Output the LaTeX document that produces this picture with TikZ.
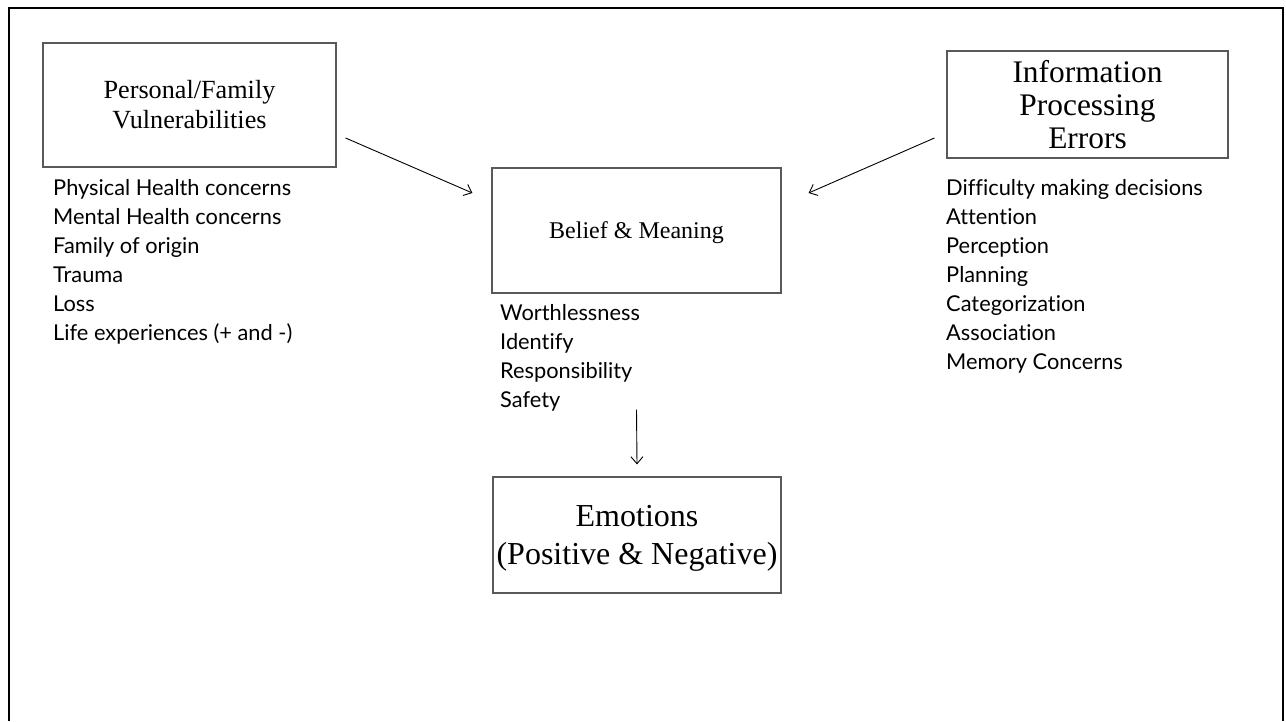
\documentclass[tikz,border=0pt]{standalone}
\usepackage{fontspec}
\setmainfont{Liberation Serif}
\newfontfamily\listfont{Lato}[Ligatures=NoCommon]
\usetikzlibrary{arrows.meta, positioning}

\begin{document}
\begin{tikzpicture}[x=1pt, y=-1pt,
  box/.style={draw=black!65, line width=1.2pt, align=center, inner sep=0pt},
  item/.style={anchor=base west, inner sep=0pt, font=\listfont\fontsize{21.8}{26}\selectfont},
  link/.style={line width=0.9pt, -{Straight Barb[length=7pt, width=12pt]}}]
  \useasboundingbox (0,0) rectangle (1286,721);
  \draw[line width=2.5pt] (9,721) -- (9,8) -- (1283,8) -- (1283,721);

  \node[box, minimum width=293pt, minimum height=124pt, font=\fontsize{26.2}{30}\selectfont]
    (pv) at (189.5,105) {Personal/Family\\ Vulnerabilities};
  \node[box, minimum width=281pt, minimum height=107pt, font=\fontsize{31.4}{33}\selectfont]
    (ip) at (1087.5,104.5) {Information\\ Processing\\ Errors};
  \node[box, minimum width=289pt, minimum height=125pt, text depth=1pt, font=\fontsize{24}{28}\selectfont]
    (bm) at (636.5,230.5) {Belief \& Meaning};
  \node[box, minimum width=288pt, minimum height=116pt, text depth=0pt, font=\fontsize{32}{38}\selectfont]
    (em) at (637,535) {Emotions\\ (Positive \& Negative)};

  % lists under the boxes
  \foreach \txt [count=\i from 0] in {Physical Health concerns, Mental Health concerns,
      Family of origin, Trauma, Loss, Life experiences (+ and -)}
    \node[item] (pv\i) at (53,195+29*\i) {\txt};
  \foreach \txt [count=\i from 0] in {Worthlessness, Identify, Responsibility, Safety}
    \node[item] (bm\i) at (500,320+29*\i) {\txt};
  \foreach \txt [count=\i from 0] in {Difficulty making decisions, Attention, Perception,
      Planning, Categorization, Association, Memory Concerns}
    \node[item] (ip\i) at (946,195+29*\i) {\txt};

  \draw[link] ([xshift=9pt, yshift=-33pt]pv.east) -- ([xshift=-19pt, yshift=37.5pt]bm.west);
  \draw[link] ([xshift=-12pt, yshift=-33.5pt]ip.west) -- ([xshift=27pt, yshift=37.5pt]bm.east);
  \draw[link] ([yshift=-116pt]bm.south) -- ([yshift=12pt]em.north);
\end{tikzpicture}
\end{document}
